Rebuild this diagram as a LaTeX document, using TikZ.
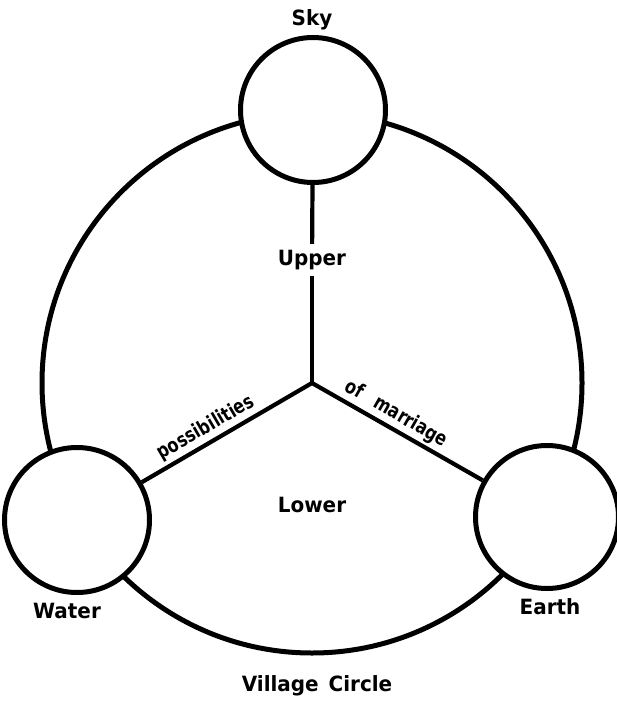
\documentclass[tikz,border=0pt]{standalone}
\usepackage{fontspec}
\setmainfont{DejaVu Sans}
\begin{document}
\begin{tikzpicture}[x=1pt,y=-1pt,
  lbl/.style={font=\fontsize{21}{25}\selectfont\bfseries\addfontfeatures{FakeStretch=0.95}, inner sep=1pt},
  slbl/.style={font=\fontsize{20}{24}\selectfont\bfseries\addfontfeatures{FakeStretch=0.8}, inner sep=1pt},
  world/.style={circle, draw, line width=5pt, fill=white, minimum size=#1, inner sep=0pt},
  ring/.style={line width=5pt},
  spoke/.style={line width=4.2pt}]
\useasboundingbox (0,0) rectangle (617,703);
\coordinate (C) at (312,383);
\draw[ring] (C) circle[radius=270];
\node[world=145] (sky) at (313,110) {};
\node[world=145] (water) at (77,520) {};
\node[world=143] (earth) at (547,517) {};
\coordinate (J) at (312,383);
\node[lbl, fill=white, inner sep=6pt] (upper) at (312,260) {Upper};
\draw[spoke] (sky) -- (upper);
\draw[spoke] (upper) -- (J);
\draw[spoke] (J) -- node[slbl, pos=0.58, sloped, above=2pt] (poss) {possibilities} (water);
\draw[spoke] (J) -- node[slbl, pos=0.45, sloped, above=2pt] (marr) {of\hspace{15pt}marriage} (earth);
\node[lbl] (skyl) at (312,20) {Sky};
\node[lbl] (waterl) at (67,611) {Water};
\node[lbl] (earthl) at (550,607) {Earth};
\node[lbl] (lower) at (312,505) {Lower};
\node[lbl] (village) at (317,686) {Village\hspace{10pt}Circle};
\end{tikzpicture}
\end{document}
